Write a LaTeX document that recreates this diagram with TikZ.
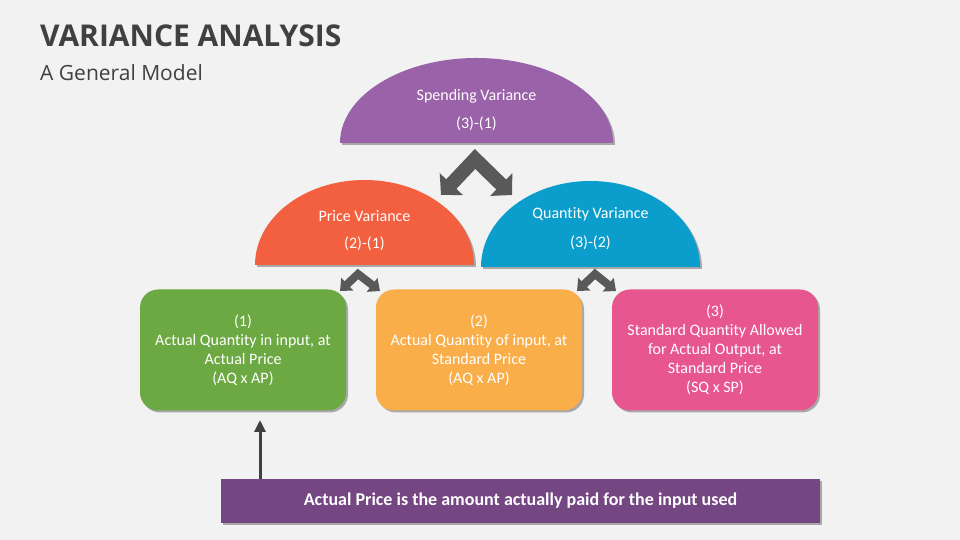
\documentclass[tikz,border=0pt]{standalone}
\usepackage{fontspec}
\setmainfont{Carlito}[Ligatures=NoCommon]
\newfontfamily\titlefont{Open Sans}
\usetikzlibrary{arrows.meta,shadows}
\definecolor{bgc}{HTML}{F2F2F2}
\definecolor{titlegray}{HTML}{404040}
\definecolor{spendc}{HTML}{9A62A8}
\definecolor{pricec}{HTML}{F2603F}
\definecolor{qtyc}{HTML}{0B9DCB}
\definecolor{greenc}{HTML}{6CA942}
\definecolor{yellowc}{HTML}{F9AE4A}
\definecolor{pinkc}{HTML}{E8568F}
\definecolor{barc}{HTML}{744682}
\definecolor{chevc}{HTML}{595959}
\begin{document}
\begin{tikzpicture}[x=1pt,y=1pt,
  shade/.style={drop shadow={shadow xshift=2pt,shadow yshift=-2pt,opacity=0.3,fill=black}},
  lbl/.style={text=white,inner sep=0pt,font=\fontsize{16}{19}\selectfont},
  box/.style={shade,rounded corners=18pt,minimum width=206pt,minimum height=121pt,
    text=white,align=center,inner sep=0pt,font=\fontsize{16}{19}\selectfont},
  bigchev/.style={draw=chevc,line width=14pt,line join=miter,
    {Triangle[width=31pt,length=15pt]}-{Triangle[width=31pt,length=15pt]}},
  smallchev/.style={draw=chevc,line width=8pt,line join=miter,
    {Triangle[width=17pt,length=10pt]}-{Triangle[width=17pt,length=10pt]}}]
  \fill[bgc] (0,0) rectangle (960,540);
  \node[anchor=base west,inner sep=0pt,text=titlegray,font=\titlefont\bfseries\fontsize{30}{36}\selectfont] (title) at (40,493) {VARIANCE ANALYSIS};
  \node[anchor=base west,inner sep=0pt,text=titlegray,font=\titlefont\fontsize{21}{25}\selectfont] (subtitle) at (40,459) {A General Model};
  % half ellipses
  \coordinate (spendL) at (340,397);
  \coordinate (priceL) at (255,275);
  \coordinate (qtyL) at (481,273);
  \fill[spendc,shade] (spendL) arc[start angle=180,end angle=0,x radius=136.5,y radius=85] -- cycle;
  \fill[pricec,shade] (priceL) arc[start angle=180,end angle=0,x radius=109.5,y radius=85] -- cycle;
  \fill[qtyc,shade] (qtyL) arc[start angle=180,end angle=0,x radius=109.5,y radius=86] -- cycle;
  \node[lbl] (spendT) at (476.5,444) {Spending Variance};
  \node[lbl] (spendF) at (476.5,416) {(3)-(1)};
  \node[lbl] (priceT) at (364.5,324) {Price Variance};
  \node[lbl] (priceF) at (364.5,296) {(2)-(1)};
  \node[lbl] (qtyT) at (590.5,326) {Quantity Variance};
  \node[lbl] (qtyF) at (590.5,297) {(3)-(2)};
  % boxes
  \node[box,fill=greenc] (actual) at (243,190) {(1)\\Actual Quantity in input, at\\Actual Price\\(AQ x AP)};
  \node[box,fill=yellowc] (stdprice) at (479,190) {(2)\\Actual Quantity of input, at\\Standard Price\\(AQ x AP)};
  % chevrons
  \coordinate (topA) at (475,381);
  \coordinate (topL) at (441,345);
  \coordinate (topR) at (512,345);
  \draw[bigchev] (topL) -- (topA) -- (topR);
  \coordinate (priceA) at (358,266);
  \coordinate (priceAL) at (340,249);
  \coordinate (priceAR) at (380,249);
  \draw[smallchev] (priceAL) -- (priceA) -- (priceAR);
  \coordinate (qtyA) at (595,266);
  \coordinate (qtyAL) at (577,249);
  \coordinate (qtyAR) at (616,249);
  \draw[smallchev] (qtyAL) -- (qtyA) -- (qtyAR);
  \node[box,fill=pinkc] (stdqty) at (715,190) {(3)\\Standard Quantity Allowed\\for Actual Output, at\\Standard Price\\(SQ x SP)};
  % note
  \node[shade,fill=barc,minimum width=599pt,minimum height=44pt,inner sep=0pt,text=white,
    font=\bfseries\fontsize{18}{22}\selectfont] (note) at (520.5,39) {Actual Price is the amount actually paid for the input used};
  \coordinate (noteTip) at (260,120);
  \draw[titlegray,line width=3pt,-{Triangle[width=11pt,length=12pt]}] (note.north -| noteTip) -- (noteTip);
\end{tikzpicture}
\end{document}
